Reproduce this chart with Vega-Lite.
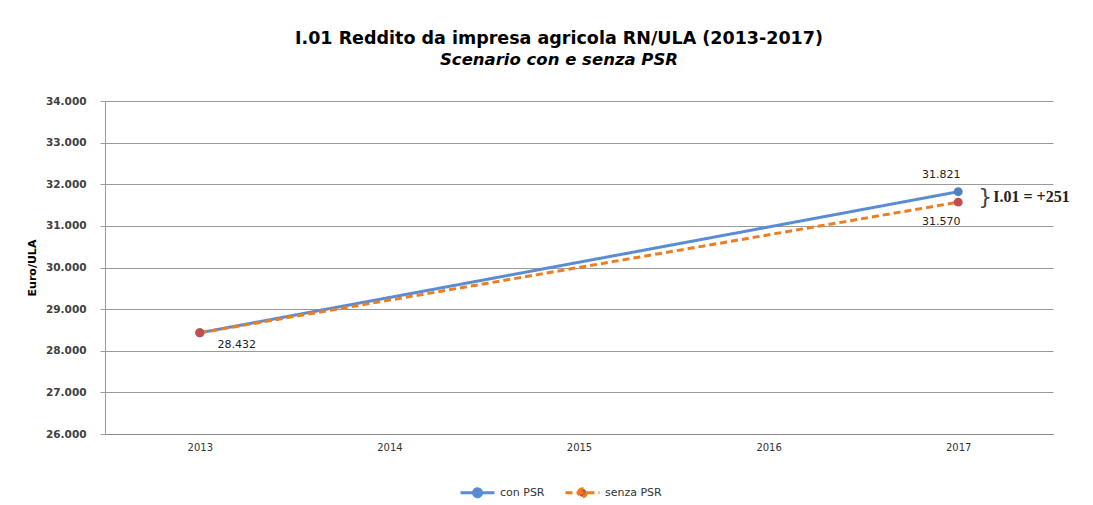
{
  "$schema": "https://vega.github.io/schema/vega-lite/v6.json",
  "width": 948,
  "height": 333,
  "autosize": {"type": "none"},
  "padding": {"left": 105, "top": 101, "right": 40, "bottom": 71},
  "background": "white",
  "config": {
    "locale": {"number": {"decimal": ",", "thousands": ".", "grouping": [3], "currency": ["€", ""]}},
    "font": "DejaVu Sans",
    "view": {"stroke": null}
  },
  "title": {
    "text": "I.01 Reddito da impresa agricola  RN/ULA (2013-2017)",
    "subtitle": "Scenario con e senza PSR",
    "anchor": "middle",
    "dx": -20,
    "font": "DejaVu Sans",
    "fontSize": 17.5,
    "fontWeight": "bold",
    "color": "#000000",
    "subtitleFont": "DejaVu Sans",
    "subtitleFontSize": 16.5,
    "subtitleFontStyle": "italic",
    "subtitleFontWeight": "bold",
    "subtitleColor": "#000000",
    "subtitlePadding": 4,
    "offset": 28
  },
  "data": {
    "values": [
      {"anno": "2013", "serie": "con PSR", "valore": 28432},
      {"anno": "2017", "serie": "con PSR", "valore": 31821},
      {"anno": "2013", "serie": "senza PSR", "valore": 28432},
      {"anno": "2017", "serie": "senza PSR", "valore": 31570}
    ]
  },
  "encoding": {
    "x": {
      "field": "anno",
      "type": "ordinal",
      "scale": {"type": "point", "domain": ["2013", "2014", "2015", "2016", "2017"], "padding": 0.5},
      "axis": {
        "title": null,
        "ticks": false,
        "grid": false,
        "labelAngle": 0,
        "labelPadding": 8,
        "labelFontSize": 10,
        "labelColor": "#333333",
        "domainColor": "#888888",
        "domainWidth": 1
      }
    },
    "y": {
      "field": "valore",
      "type": "quantitative",
      "scale": {"domain": [26000, 34000], "nice": false, "zero": false},
      "axis": {
        "title": "Euro/ULA",
        "values": [26000, 27000, 28000, 29000, 30000, 31000, 32000, 33000, 34000],
        "format": ",.0f",
        "grid": true,
        "gridColor": "#9a9a9a",
        "domainColor": "#9a9a9a",
        "tickColor": "#9a9a9a",
        "tickSize": 5,
        "labelPadding": 14,
        "labelFontSize": 10.5,
        "labelFontWeight": "bold",
        "labelColor": "#404040",
        "titleFontSize": 11,
        "titleFontWeight": "bold",
        "titleColor": "#000000",
        "titlePadding": 8
      }
    }
  },
  "layer": [
    {
      "mark": {"type": "line", "strokeWidth": 3},
      "encoding": {
        "stroke": {
          "field": "serie",
          "type": "nominal",
          "scale": {"domain": ["con PSR", "senza PSR"], "range": ["#5A8CD3", "#EE7D22"]},
          "legend": {
            "title": null, "orient": "none", "legendX": 366, "legendY": 385, "direction": "horizontal",
            "symbolType": "M-3.4,0H3.4M-0.8,0A0.8,0.8 0 1 1 0.8,0A0.8,0.8 0 1 1 -0.8,0Z",
            "symbolSize": 100, "symbolStrokeWidth": 3, "labelOffset": 16, "columnPadding": 14,
            "labelFontSize": 11, "labelColor": "#333333", "padding": 0
          }
        },
        "strokeDash": {
          "field": "serie",
          "type": "nominal",
          "scale": {"domain": ["con PSR", "senza PSR"], "range": [[1, 0], [7, 4]]},
          "legend": {
            "title": null, "orient": "none", "legendX": 366, "legendY": 385, "direction": "horizontal",
            "symbolType": "M-3.4,0H3.4M-0.8,0A0.8,0.8 0 1 1 0.8,0A0.8,0.8 0 1 1 -0.8,0Z",
            "symbolSize": 100, "symbolStrokeWidth": 3, "labelOffset": 16, "columnPadding": 14,
            "labelFontSize": 11, "labelColor": "#333333", "padding": 0
          }
        }
      }
    },
    {
      "mark": {"type": "point", "filled": true, "size": 80, "opacity": 1},
      "encoding": {
        "fill": {
          "field": "serie",
          "type": "nominal",
          "scale": {"domain": ["con PSR", "senza PSR"], "range": ["#4F81BD", "#C0504D"]},
          "legend": {
            "title": null, "orient": "none", "legendX": 366, "legendY": 385, "direction": "horizontal",
            "symbolType": "M-3.4,0H3.4M-0.8,0A0.8,0.8 0 1 1 0.8,0A0.8,0.8 0 1 1 -0.8,0Z",
            "symbolSize": 100, "symbolStrokeWidth": 3, "labelOffset": 16, "columnPadding": 14,
            "labelFontSize": 11, "labelColor": "#333333", "padding": 0
          }
        }
      }
    },
    {
      "transform": [{"filter": "datum.anno == '2017' && datum.serie == 'con PSR'"}],
      "mark": {"type": "text", "dx": -17, "dy": -17, "fontSize": 11, "color": "#222222"},
      "encoding": {"text": {"field": "valore", "type": "quantitative", "format": ",.0f"}}
    },
    {
      "transform": [{"filter": "datum.anno == '2017' && datum.serie == 'senza PSR'"}],
      "mark": {"type": "text", "dx": -17, "dy": 20, "fontSize": 11, "color": "#222222"},
      "encoding": {"text": {"field": "valore", "type": "quantitative", "format": ",.0f"}}
    },
    {
      "transform": [{"filter": "datum.anno == '2013' && datum.serie == 'senza PSR'"}],
      "mark": {"type": "text", "dx": 37, "dy": 12, "fontSize": 11, "color": "#222222"},
      "encoding": {"text": {"field": "valore", "type": "quantitative", "format": ",.0f"}}
    },
    {
      "data": {"values": [{"anno": "2017", "valore": 31695.5, "testo": "I.01 = +251"}]},
      "mark": {"type": "text", "text": "}", "align": "left", "dx": 20, "fontSize": 22, "baseline": "middle", "color": "#444444"}
    },
    {
      "data": {"values": [{"anno": "2017", "valore": 31695.5, "testo": "I.01 = +251"}]},
      "mark": {"type": "text", "align": "left", "baseline": "middle", "dx": 35, "font": "Liberation Serif", "fontWeight": "bold", "fontSize": 16, "color": "#222222"},
      "encoding": {"text": {"field": "testo", "type": "nominal"}}
    }
  ]
}
